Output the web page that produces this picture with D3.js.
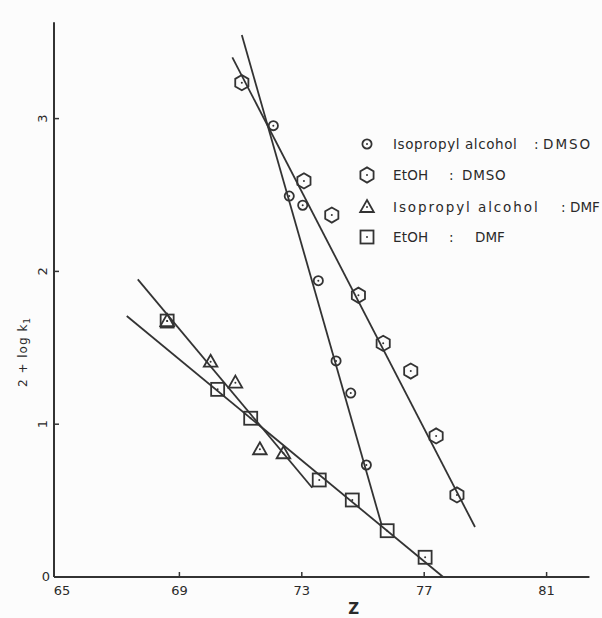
<!DOCTYPE html>
<html>
<head>
<meta charset="utf-8">
<script src="https://cdn.jsdelivr.net/npm/d3@7"></script>
<style>
  body { margin: 0; background: #fcfcfc; }
  svg { display: block; }
  text { font-family: "DejaVu Sans", sans-serif; fill: #2a2a2a; }
</style>
</head>
<body>
<div id="chart"></div>
<script>
// values (Z, 2 + log k1)
const isoDmso = [[72.07, 2.954], [72.59, 2.493], [73.03, 2.433], [73.54, 1.939], [74.12, 1.414], [74.60, 1.204], [75.11, 0.733]];
const etohDmso = [[71.04, 3.235], [73.07, 2.592], [73.98, 2.369], [74.85, 1.844], [75.66, 1.529], [76.56, 1.348], [77.39, 0.923], [78.07, 0.537]];
const isoDmf = [[68.60, 1.675], [70.02, 1.409], [70.83, 1.272], [71.63, 0.836], [72.40, 0.810]];
const etohDmf = [[68.60, 1.675], [70.25, 1.228], [71.33, 1.039], [73.57, 0.635], [74.65, 0.504], [75.79, 0.303], [77.03, 0.129]];

// fitted straight lines, end points
const lineIsoDmso = [[71.04, 3.547], [75.61, 0.340]];
const lineEtohDmso = [[70.73, 3.401], [78.66, 0.327]];
const lineIsoDmf = [[67.64, 1.948], [73.34, 0.584]];
const lineEtohDmf = [[67.28, 1.708], [77.62, 0.0]];

const xTicks = [65, 69, 73, 77, 81];
const yTicks = [1, 2, 3];
const legendLabels = ["Isopropyl alcohol", "EtOH", "Isopropyl alcohol", "EtOH"];
const legendSolvents = ["DMSO", "DMSO", "DMF", "DMF"];

const width = 602, height = 618;
const svg = d3.select("#chart").append("svg")
  .attr("width", width).attr("height", height);

const x = d3.scaleLinear().domain([65, 82]).range([57, 57 + 17 * 30.6]);
const y = d3.scaleLinear().domain([0, 3]).range([577, 577 - 3 * 152.8]);
const ink = "#333";

// axes (hand drawn style: ticks point inwards)
svg.append("line").attr("x1", 54).attr("x2", 54).attr("y1", y(3.63)).attr("y2", y(0))
  .attr("stroke", ink).attr("stroke-width", 2);
svg.append("line").attr("x1", 54).attr("x2", x(82.4)).attr("y1", y(0)).attr("y2", y(0))
  .attr("stroke", ink).attr("stroke-width", 2);

svg.selectAll(".xt").data(xTicks.slice(1)).enter().append("line")
  .attr("x1", d => x(d)).attr("x2", d => x(d)).attr("y1", y(0)).attr("y2", y(0) - 5)
  .attr("stroke", ink).attr("stroke-width", 1.5);
svg.selectAll(".xl").data(xTicks).enter().append("text")
  .attr("x", d => x(d) + (d === 65 ? 5 : 0)).attr("y", y(0) + 18)
  .attr("text-anchor", "middle").attr("font-size", 13)
  .text(d => d);

svg.selectAll(".yt").data(yTicks).enter().append("line")
  .attr("x1", 54).attr("x2", 59).attr("y1", d => y(d)).attr("y2", d => y(d))
  .attr("stroke", ink).attr("stroke-width", 1.5);
svg.selectAll(".yl").data(yTicks).enter().append("text")
  .attr("transform", d => `translate(47,${y(d)}) rotate(-90)`)
  .attr("text-anchor", "middle").attr("font-size", 13)
  .text(d => d);
svg.append("text").attr("x", 50).attr("y", y(0) + 4)
  .attr("text-anchor", "end").attr("font-size", 13).text("0");

svg.append("text").attr("x", x(74.7)).attr("y", 614)
  .attr("text-anchor", "middle").attr("font-size", 15).attr("font-weight", "bold").text("Z");

const yl = svg.append("text")
  .attr("transform", `translate(27,352) rotate(-90)`)
  .attr("text-anchor", "middle").attr("font-size", 12).attr("letter-spacing", 1);
yl.append("tspan").text("2 + log k");
yl.append("tspan").attr("font-size", 9).attr("dy", 3).text("1");

// fitted lines
const line = d3.line().x(d => x(d[0])).y(d => y(d[1]));
[lineIsoDmso, lineEtohDmso, lineIsoDmf, lineEtohDmf].forEach(l => {
  svg.append("path").attr("d", line(l)).attr("fill", "none")
    .attr("stroke", ink).attr("stroke-width", 1.8);
});

// markers
function hexPath(r) {
  const pts = d3.range(6).map(i => {
    const a = Math.PI / 6 + i * Math.PI / 3;
    return [r * Math.cos(a), r * Math.sin(a)];
  });
  return "M" + pts.map(p => p.join(",")).join("L") + "Z";
}
const shapes = {
  circle: g => g.append("circle").attr("r", 4.6),
  hex: g => g.append("path").attr("d", hexPath(7.6)),
  tri: g => g.append("path").attr("d", "M0,-7L6.8,5L-6.8,5Z"),
  square: g => g.append("rect").attr("x", -6.5).attr("y", -6.5).attr("width", 13).attr("height", 13)
};

function drawMarker(g, kind) {
  shapes[kind](g).attr("fill", "none").attr("stroke", ink).attr("stroke-width", 1.8);
  g.append("circle").attr("r", 1).attr("fill", ink);
}

const series = [
  { data: isoDmso, kind: "circle" },
  { data: etohDmso, kind: "hex" },
  { data: isoDmf, kind: "tri" },
  { data: etohDmf, kind: "square" }
];

series.forEach(s => {
  s.data.forEach(d => {
    const g = svg.append("g").attr("transform", `translate(${x(d[0])},${y(d[1])})`);
    drawMarker(g, s.kind);
  });
});

// legend layout
const legendY = [144, 175, 207, 237];
const labelSpacing = [0.6, 0.2, 1.9, 0.2];
const colonX = [534, 449, 561, 449];
const solventX = [543, 462, 570, 475];
const solventSpacing = [2, 0.8, 0, 0];
series.forEach((s, i) => {
  const g = svg.append("g").attr("transform", `translate(367,${legendY[i]})`);
  drawMarker(g, s.kind);
  svg.append("text").attr("x", 393).attr("y", legendY[i] + 5)
    .attr("font-size", 13.5).attr("letter-spacing", labelSpacing[i]).text(legendLabels[i]);
  svg.append("text").attr("x", colonX[i]).attr("y", legendY[i] + 5)
    .attr("font-size", 13.5).text(":");
  svg.append("text").attr("x", solventX[i]).attr("y", legendY[i] + 5)
    .attr("font-size", 13.5).attr("letter-spacing", solventSpacing[i]).text(legendSolvents[i]);
});
</script>
</body>
</html>
